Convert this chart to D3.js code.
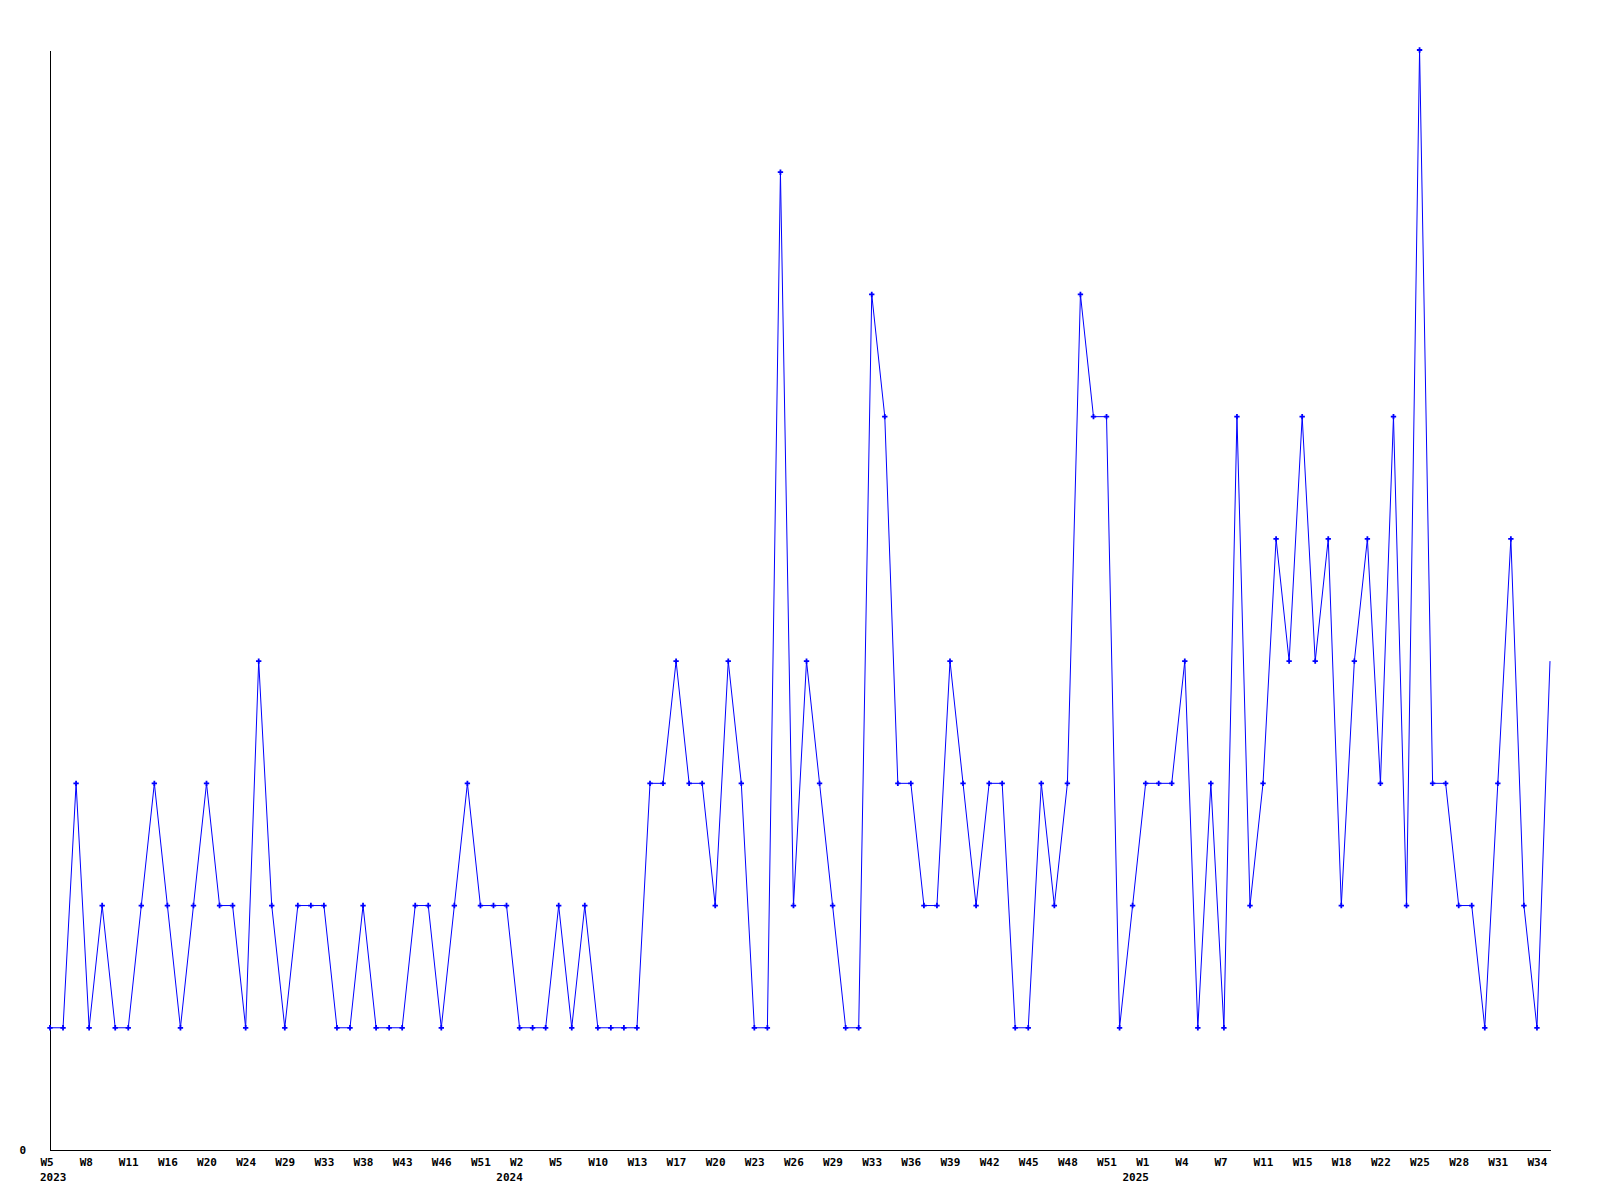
<!DOCTYPE html>
<html>
<head>
<meta charset="utf-8">
<script src="https://cdn.jsdelivr.net/npm/d3@7"></script>
<style>
  html, body { margin: 0; padding: 0; background: #fff; }
  svg { display: block; }
  .lbl { font-family: "DejaVu Sans Mono", monospace; font-weight: bold; font-size: 11px; fill: #000; }
</style>
</head>
<body>
<svg id="chart" width="1600" height="1200"></svg>
<script>
// ---- data ----
const weeks = [
  "2023-W05","2023-W06","2023-W07","2023-W08","2023-W09","2023-W10","2023-W11","2023-W13","2023-W14","2023-W16",
  "2023-W17","2023-W18","2023-W20","2023-W21","2023-W22","2023-W24","2023-W25","2023-W27","2023-W29","2023-W30",
  "2023-W31","2023-W33","2023-W35","2023-W36","2023-W38","2023-W40","2023-W41","2023-W43","2023-W44","2023-W45",
  "2023-W46","2023-W48","2023-W49","2023-W51","2023-W52","2024-W01","2024-W02","2024-W03","2024-W04","2024-W05",
  "2024-W07","2024-W08","2024-W10","2024-W11","2024-W12","2024-W13","2024-W14","2024-W16","2024-W17","2024-W18",
  "2024-W19","2024-W20","2024-W21","2024-W22","2024-W23","2024-W24","2024-W25","2024-W26","2024-W27","2024-W28",
  "2024-W29","2024-W31","2024-W32","2024-W33","2024-W34","2024-W35","2024-W36","2024-W37","2024-W38","2024-W39",
  "2024-W40","2024-W41","2024-W42","2024-W43","2024-W44","2024-W45","2024-W46","2024-W47","2024-W48","2024-W49",
  "2024-W50","2024-W51","2024-W52","2024-W53","2025-W01","2025-W02","2025-W03","2025-W04","2025-W05","2025-W06",
  "2025-W07","2025-W08","2025-W10","2025-W11","2025-W13","2025-W14","2025-W15","2025-W16","2025-W17","2025-W18",
  "2025-W20","2025-W21","2025-W22","2025-W23","2025-W24","2025-W25","2025-W26","2025-W27","2025-W28","2025-W29",
  "2025-W30","2025-W31","2025-W32","2025-W33","2025-W34","2025-W35"
];
const values = [
  1,1,3,1,2,1,1,2,3,2,
  1,2,3,2,2,1,4,2,1,2,
  2,2,1,1,2,1,1,1,2,2,
  1,2,3,2,2,2,1,1,1,2,
  1,2,1,1,1,1,3,3,4,3,
  3,2,4,3,1,1,8,2,4,3,
  2,1,1,7,6,3,3,2,2,4,
  3,2,3,3,1,1,3,2,3,7,
  6,6,1,2,3,3,3,4,1,3,
  1,6,2,3,5,4,6,4,5,2,
  4,5,3,6,2,9,3,3,2,2,
  1,3,5,2,1,4
];
const tickEvery = 3;
const yTicks = [0];

// ---- chart ----
const svg = d3.select("#chart");
const mLeft = 50, mRight = 1550, mTop = 50, mBottom = 1150;

const x = d3.scalePoint().domain(weeks).range([mLeft, mRight]);
const y = d3.scaleLinear().domain([0, 9]).range([mBottom, mTop]);

const parse = w => ({ year: w.slice(0, 4), wk: +w.slice(6) });
const tickWeeks = weeks.filter((w, i) => i % tickEvery === 0);

// y axis
const gy = svg.append("g").attr("transform", `translate(${mLeft},0)`)
  .call(d3.axisLeft(y).tickValues(yTicks).tickSize(0).tickSizeOuter(0).tickPadding(24));
gy.attr("font-family", null).attr("font-size", null);
gy.select(".domain").attr("stroke", "#000").attr("shape-rendering", "crispEdges");
gy.selectAll("text").attr("class", "lbl").attr("dy", "0.35em").attr("text-anchor", "end");

// x axis
const gx = svg.append("g").attr("transform", `translate(0,${mBottom})`)
  .call(d3.axisBottom(x).tickValues(tickWeeks).tickSize(0).tickSizeOuter(0)
    .tickFormat(w => "W" + parse(w).wk));
gx.attr("font-family", null).attr("font-size", null);
gx.select(".domain").attr("stroke", "#000").attr("shape-rendering", "crispEdges");
gx.selectAll(".tick text").attr("class", "lbl")
  .attr("text-anchor", "start").attr("x", -10).attr("y", 16).attr("dy", null);

// year labels centred under the start of the first week label of each year
let prevYear = null;
tickWeeks.forEach(w => {
  const yr = parse(w).year;
  if (yr !== prevYear) {
    const t = svg.append("text").attr("class", "lbl")
      .attr("y", mBottom + 31).text(yr);
    const wdt = t.node().getComputedTextLength();
    const cx = Math.max(x(w) - 10, mLeft - 10 + wdt / 2);
    t.attr("x", cx).attr("text-anchor", "middle");
    prevYear = yr;
  }
});

// line
const line = d3.line().x((d, i) => x(weeks[i])).y(d => y(d));
svg.append("path").datum(values)
  .attr("d", line).attr("fill", "none").attr("stroke", "#0000ff").attr("stroke-width", 1);

// markers
const cross = d3.symbol().type(d3.symbolCross).size(16);
svg.append("g").selectAll("path").data(values.slice(0, values.length - 1)).join("path")
  .attr("transform", (d, i) => `translate(${x(weeks[i])},${y(d)})`)
  .attr("d", cross).attr("fill", "#0000ff");
</script>
</body>
</html>
